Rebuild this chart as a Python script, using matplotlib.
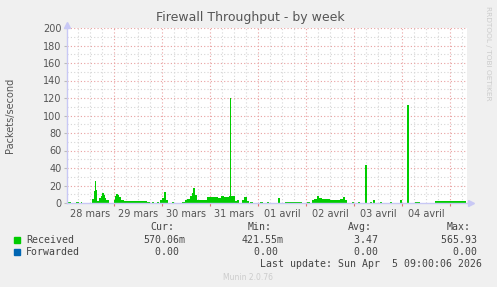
import datetime as dt
import matplotlib
matplotlib.use("Agg")
import matplotlib.pyplot as plt
import matplotlib.dates as mdates
from matplotlib.ticker import MultipleLocator

# week graph: 200 hours, left edge of the plot
start = dt.datetime(2026, 3, 28, 0, 30)

# Received packets/s, step values (hours from start)
recv_hours = [0, 2, 4.5, 6, 7, 7.5, 12.5, 13.5, 14, 14.5, 15, 16, 17, 17.5, 18.5, 19,
              19.5, 21, 23.5, 24, 24.5, 25.5, 26, 27, 28.5, 40, 41.5, 42.5, 43.5, 45,
              46, 46.5, 47.5, 48.5, 49.25, 49.5, 50.5, 52.5, 53.5, 57.5, 59, 60, 61.5,
              62.5, 63, 64, 65, 70, 73, 74.5, 75.5, 77, 78.5, 81, 81.5, 82, 84, 85, 86,
              87.5, 88.5, 90, 91, 91.5, 93, 96.5, 98, 100, 101, 105.5, 106.5, 109,
              117.5, 120, 121.5, 122.5, 123.5, 125, 126, 127.5, 129.5, 131.5, 134.5,
              136.5, 138, 139, 140, 142.5, 143.5, 145.5, 146.5, 149, 150, 151.5, 152.5,
              153, 154, 156.5, 157.5, 161.5, 162.5, 166.5, 167.5, 170, 171, 174, 176.5,
              184, 199.5]
recv_values = [1.5, 0.5, 1.5, 0.5, 1, 0.5, 5, 14, 25, 15, 2, 6, 8, 11, 9, 6,
               4, 0.5, 4, 8, 10, 9, 7, 4, 2.5, 1.5, 0.5, 1, 0.5, 1,
               0.5, 3, 6, 13, 8, 4, 0.5, 1, 0.5, 1, 3, 5, 8,
               12, 17, 9, 3, 7, 6.5, 7, 6, 7.5, 7, 8, 120, 7.5, 2, 4, 0.5,
               4, 7, 2, 0.5, 1, 0.5, 1, 0.5, 1, 0.5, 6, 0.5, 1.5,
               0.5, 1, 0.5, 3, 5, 8, 5.5, 5, 4.5, 4, 3.5,
               4.5, 6.5, 3, 0.5, 1, 0.5, 1, 0.5, 43, 0.5, 1, 0.5,
               3, 0.5, 1, 0.5, 1, 0.5, 4, 0.5, 112, 0.5, 1, 0.5,
               2.5, 2.5]

fwd_hours = [0, 199.5]
fwd_values = [0, 0]

day_labels = ["28 mars", "29 mars", "30 mars", "31 mars",
              "01 avril", "02 avril", "03 avril", "04 avril"]

legend_names = ["Received", "Forwarded"]
legend_colors = ["#00CC00", "#0066B3"]
stat_cur = ["570.06m", "0.00"]
stat_min = ["421.55m", "0.00"]
stat_avg = ["3.47", "0.00"]
stat_max = ["565.93", "0.00"]

W, H = 497, 287
fig = plt.figure(figsize=(W / 100, H / 100), dpi=100, facecolor="#F0F0F0")
ax = fig.add_axes([67 / W, (H - 203) / H, 400 / W, 175 / H])
ax.set_facecolor("white")

times = [start + dt.timedelta(hours=h) for h in recv_hours]
ax.fill_between(times, recv_values, step="post", color=legend_colors[0], lw=0)
ftimes = [start + dt.timedelta(hours=h) for h in fwd_hours]
ax.step(ftimes, fwd_values, where="post", color=legend_colors[1], lw=0.6)

end = start + dt.timedelta(hours=200)
ax.set_xlim(start, end)
ax.set_ylim(0, 200)

# grids
red = "#E9A0A0"
grey = "#D6D6D6"
dots = (0, (1, 2))
t = dt.datetime(2026, 3, 28, 6)
while t < end:
    if t.hour == 0:
        ax.axvline(t, color=red, lw=0.8, ls=dots, zorder=0.5)
    else:
        ax.axvline(t, color=grey, lw=0.8, ls=dots, zorder=0.4)
    t += dt.timedelta(hours=6)
for v in range(10, 201, 10):
    ax.axhline(v, color=red if v % 20 == 0 else grey, lw=0.8, ls=dots,
               zorder=0.5 if v % 20 == 0 else 0.4)

ax.yaxis.set_major_locator(MultipleLocator(20))
noons = [dt.datetime(2026, 3, 28, 12) + dt.timedelta(days=i) for i in range(8)]
ax.set_xticks(noons)
ax.set_xticklabels(day_labels)
ax.xaxis.set_minor_locator(mdates.HourLocator(byhour=[0]))
ax.tick_params(axis="x", which="major", length=0, pad=4, labelsize=7, labelcolor="#555555")
ax.tick_params(axis="x", which="minor", length=2, color="#E07070", width=0.8)
ax.tick_params(axis="y", which="major", length=2, color="#BBBBBB", pad=2,
               labelsize=7, labelcolor="#555555")

for s in ["top", "right"]:
    ax.spines[s].set_visible(False)
for s in ["left", "bottom"]:
    ax.spines[s].set_color("#C8C8F5")
    ax.spines[s].set_linewidth(1)
ax.plot([0], [1.015], marker="^", ms=4, color="#C8C8F5", transform=ax.transAxes, clip_on=False)
ax.plot([1.01], [0], marker=">", ms=4, color="#C8C8F5", transform=ax.transAxes, clip_on=False)

fig.text(250 / W, 1 - 18 / H, "Firewall Throughput - by week", ha="center", va="center",
         fontsize=9, color="#555555")
fig.text(10 / W, 1 - 115 / H, "Packets/second", rotation=90, ha="center", va="center",
         fontsize=7, color="#555555")
fig.text(488 / W, 1 - 53 / H, "RRDTOOL / TOBI OETIKER", rotation=270, ha="center",
         va="center", fontsize=5.3, color="#CCCCCC")

mono = dict(family="DejaVu Sans Mono", fontsize=7.1, color="#444444", va="center")
fig.text(150 / W, 1 - 227 / H, "Cur:", **mono)
fig.text(248 / W, 1 - 227 / H, "Min:", **mono)
fig.text(348 / W, 1 - 227 / H, "Avg:", **mono)
fig.text(447 / W, 1 - 227 / H, "Max:", **mono)
for i, name in enumerate(legend_names):
    y = 1 - (240 + 12 * i) / H
    fig.patches.append(plt.Rectangle((14 / W, y - 3 / H), 6 / W, 6 / H,
                                     transform=fig.transFigure, color=legend_colors[i]))
    fig.text(26 / W, y, name, **mono)
    fig.text(185 / W, y, stat_cur[i] if stat_cur[i].endswith("m") else stat_cur[i] + " ",
             ha="right", **mono)
    fig.text(284 / W, y, stat_min[i] if stat_min[i].endswith("m") else stat_min[i] + " ",
             ha="right", **mono)
    fig.text(384 / W, y, stat_avg[i] + " ", ha="right", **mono)
    fig.text(483 / W, y, stat_max[i] + " ", ha="right", **mono)
fig.text(482 / W, 1 - 264 / H, "Last update: Sun Apr  5 09:00:06 2026", ha="right", **mono)
fig.text(248 / W, 1 - 277 / H, "Munin 2.0.76", ha="center", va="center",
         fontsize=5.5, color="#CCCCCC")

fig.savefig("out.png", dpi=100, facecolor=fig.get_facecolor())
